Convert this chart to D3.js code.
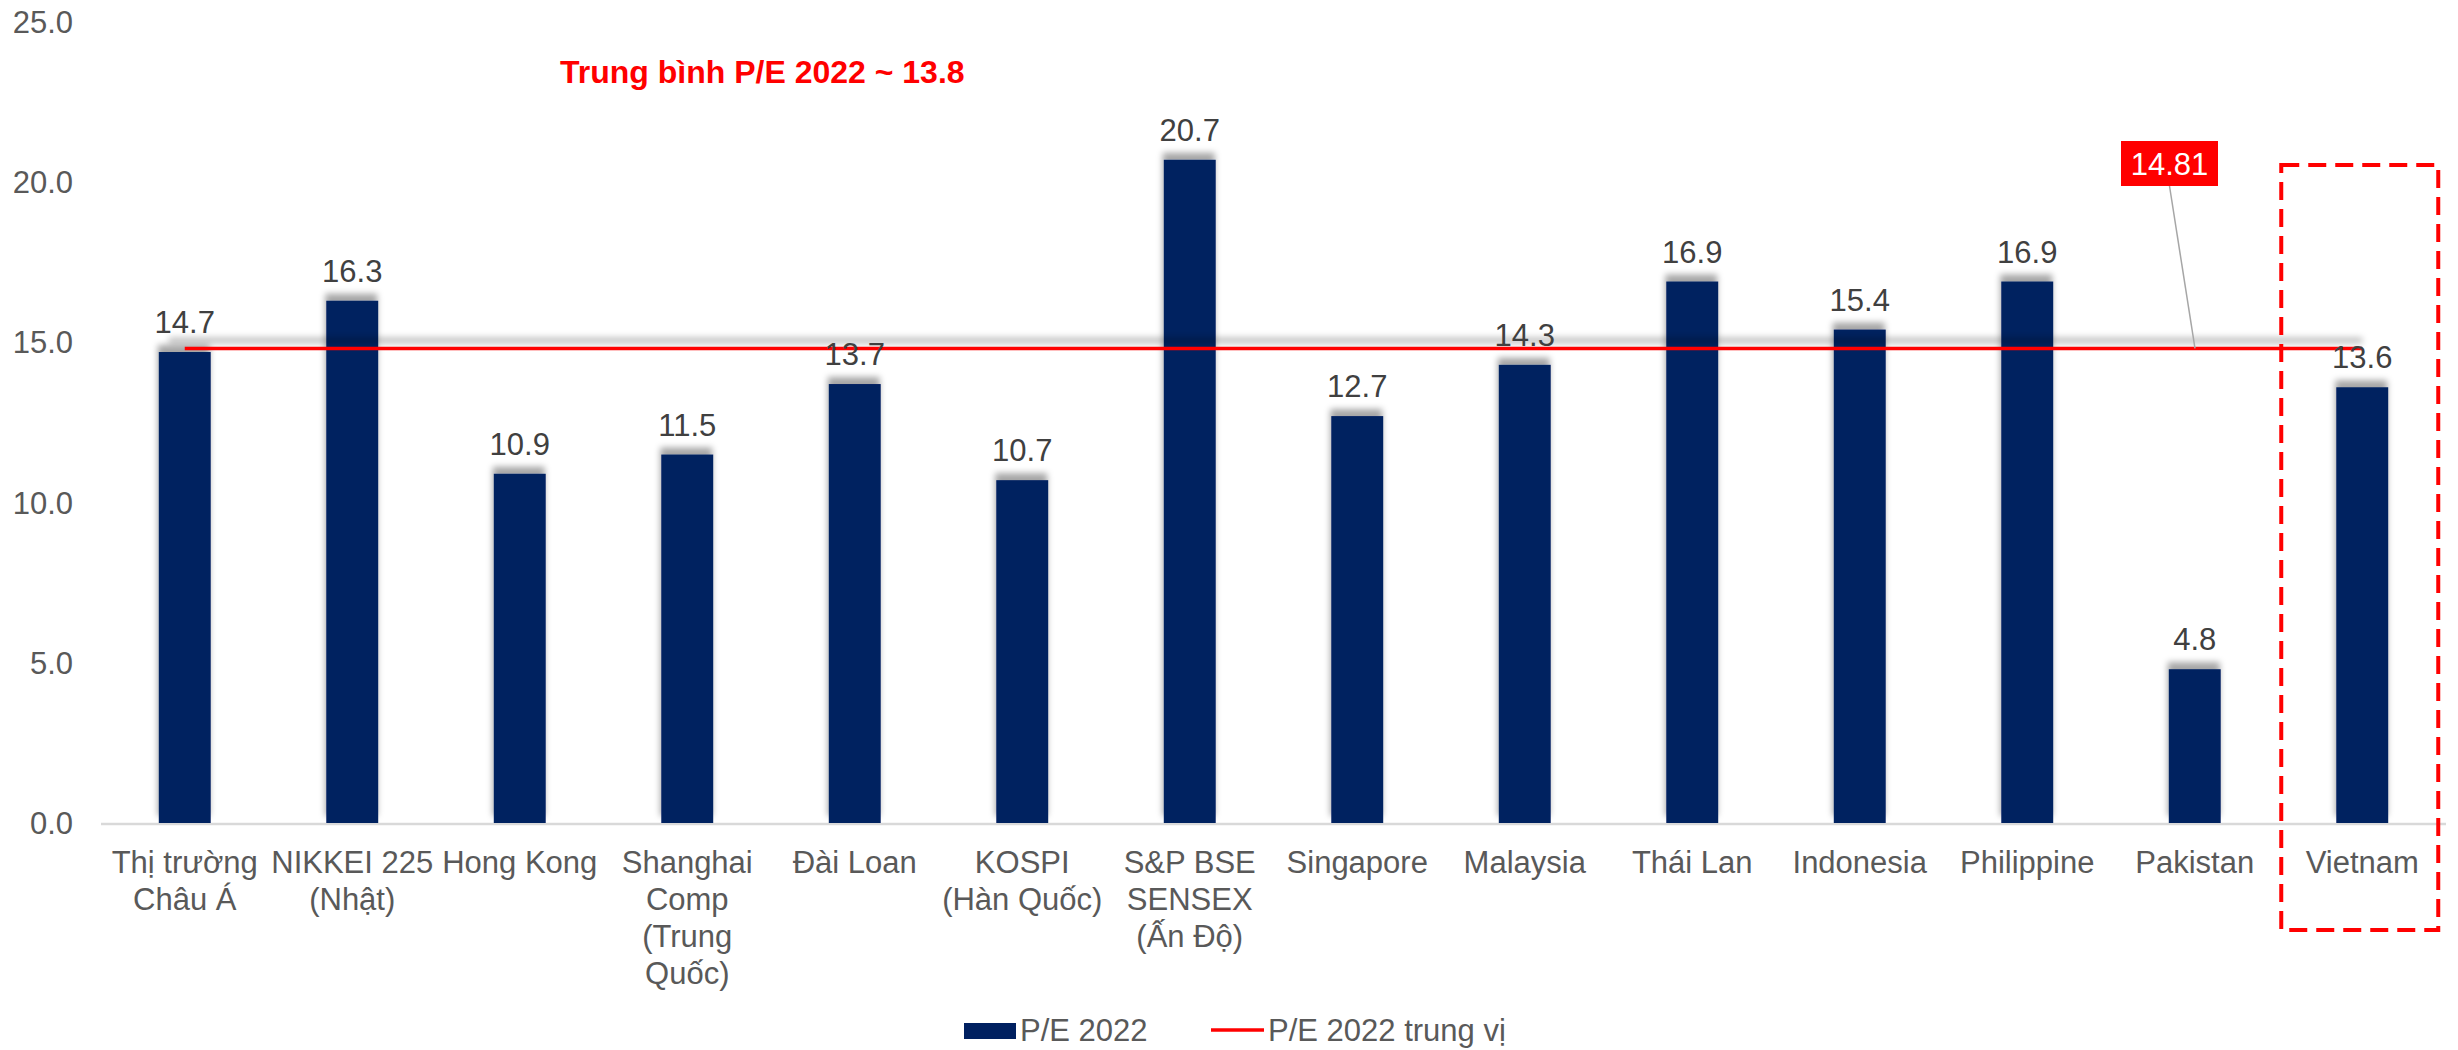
<!DOCTYPE html>
<html>
<head>
<meta charset="utf-8">
<script src="https://cdn.jsdelivr.net/npm/d3@7"></script>
<style>
  body { margin: 0; background: #fff; }
  svg { display: block; font-family: "Liberation Sans", Arial, sans-serif; }
</style>
</head>
<body>
<svg width="2458" height="1050"></svg>
<script>
// categories (line breaks as in the original axis)
const categories = [
  "Thị trường\nChâu Á", "NIKKEI 225\n(Nhật)", "Hong Kong", "Shanghai\nComp\n(Trung\nQuốc)",
  "Đài Loan", "KOSPI\n(Hàn Quốc)", "S&P BSE\nSENSEX\n(Ấn Độ)", "Singapore", "Malaysia",
  "Thái Lan", "Indonesia", "Philippine", "Pakistan", "Vietnam"
];
const peValues = [14.7, 16.3, 10.9, 11.5, 13.7, 10.7, 20.7, 12.7, 14.3, 16.9, 15.4, 16.9, 4.8, 13.6];
const medianValue = 14.81;
const yTicks = [0, 5, 10, 15, 20, 25];
const seriesNames = ["P/E 2022", "P/E 2022 trung vị"];
const noteText = "Trung bình P/E 2022 ~ 13.8";
const highlighted = "Vietnam";

const svg = d3.select("svg");
const plotLeft = 101, plotRight = 2446, plotTop = 22, plotBottom = 823;
const barColor = "#002060", red = "#FF0000", textGrey = "#595959";

const x = d3.scaleBand().domain(categories).range([plotLeft, plotRight]).padding(0);
const y = d3.scaleLinear().domain([0, 25]).range([plotBottom, plotTop]);
const barW = x.bandwidth() * 0.31;
const cx = d => x(d) + x.bandwidth() / 2;

// shadows
const defs = svg.append("defs");
const bs = defs.append("filter").attr("id", "barShadow").attr("x", "-30%").attr("y", "-10%").attr("width", "160%").attr("height", "120%");
bs.append("feDropShadow").attr("dx", -1).attr("dy", -7).attr("stdDeviation", 3).attr("flood-color", "#000").attr("flood-opacity", 0.35);
const ls = defs.append("filter").attr("id", "lineShadow").attr("filterUnits", "userSpaceOnUse")
  .attr("x", 0).attr("y", 300).attr("width", 2458).attr("height", 100);
ls.append("feGaussianBlur").attr("stdDeviation", 3);

// y axis labels
svg.append("g").selectAll("text").data(yTicks).join("text")
  .attr("x", 73).attr("y", d => y(d) + 11)
  .attr("text-anchor", "end").attr("font-size", 31).attr("fill", textGrey)
  .text(d => d3.format(".1f")(d));

// baseline
svg.append("line").attr("x1", plotLeft).attr("x2", plotRight).attr("y1", plotBottom + 1).attr("y2", plotBottom + 1)
  .attr("stroke", "#d9d9d9").attr("stroke-width", 2.5);

// bars
svg.append("g").selectAll("rect").data(categories).join("rect")
  .attr("x", d => cx(d) - barW / 2)
  .attr("y", (d, i) => y(peValues[i]))
  .attr("width", barW)
  .attr("height", (d, i) => plotBottom - y(peValues[i]))
  .attr("fill", barColor)
  .attr("filter", "url(#barShadow)");

// median line with its shadow
const first = categories[0], last = categories[categories.length - 1];
svg.append("line")
  .attr("x1", cx(first) - 16).attr("x2", cx(last))
  .attr("y1", y(medianValue) - 8).attr("y2", y(medianValue) - 8)
  .attr("stroke", "#000").attr("stroke-opacity", 0.25).attr("stroke-width", 6)
  .attr("filter", "url(#lineShadow)");
svg.append("line")
  .attr("x1", cx(first)).attr("x2", cx(last))
  .attr("y1", y(medianValue)).attr("y2", y(medianValue))
  .attr("stroke", red).attr("stroke-width", 3.5);

// value labels
svg.append("g").selectAll("text").data(categories).join("text")
  .attr("x", d => cx(d))
  .attr("y", (d, i) => y(peValues[i]) - 19)
  .attr("text-anchor", "middle").attr("font-size", 31).attr("fill", "#404040")
  .text((d, i) => d3.format(".1f")(peValues[i]));

// category labels
svg.append("g").selectAll("text").data(categories).join("text")
  .attr("x", d => cx(d))
  .attr("y", 873)
  .attr("text-anchor", "middle").attr("font-size", 31).attr("fill", textGrey)
  .each(function(d) {
    d.split("\n").forEach((s, k) => {
      d3.select(this).append("tspan").attr("x", cx(d)).attr("y", 873 + k * 37).text(s);
    });
  });

// median callout
const boxX = 2121, boxY = 141, boxW = 97, boxH = 45;
svg.append("line")
  .attr("x1", boxX + boxW / 2).attr("y1", boxY + boxH)
  .attr("x2", 2195).attr("y2", y(medianValue))
  .attr("stroke", "#a6a6a6").attr("stroke-width", 1.5);
svg.append("rect").attr("x", boxX).attr("y", boxY).attr("width", boxW).attr("height", boxH).attr("fill", red);
svg.append("text").attr("x", boxX + boxW / 2).attr("y", boxY + 34)
  .attr("text-anchor", "middle").attr("font-size", 31).attr("fill", "#fff")
  .text(d3.format(".2f")(medianValue));

// note
svg.append("text").attr("x", 560).attr("y", 83)
  .attr("font-size", 32).attr("font-weight", "bold").attr("fill", red)
  .text(noteText);

// highlight box around Vietnam
const hx = cx(highlighted);
svg.append("rect")
  .attr("x", hx - 81).attr("y", 165).attr("width", 157).attr("height", 765)
  .attr("fill", "none").attr("stroke", red).attr("stroke-width", 4)
  .attr("stroke-dasharray", "18,9");

// legend (kept just inside the bottom edge)
const lg = svg.append("g");
lg.append("rect").attr("x", 964).attr("y", 1023).attr("width", 52).attr("height", 16).attr("fill", barColor);
lg.append("text").attr("x", 1020).attr("y", 1041).attr("font-size", 31).attr("fill", textGrey).text(seriesNames[0]);
lg.append("line").attr("x1", 1211).attr("x2", 1264).attr("y1", 1030).attr("y2", 1030).attr("stroke", red).attr("stroke-width", 3.5);
lg.append("text").attr("x", 1268).attr("y", 1041).attr("font-size", 31).attr("fill", textGrey).text(seriesNames[1]);
</script>
</body>
</html>
